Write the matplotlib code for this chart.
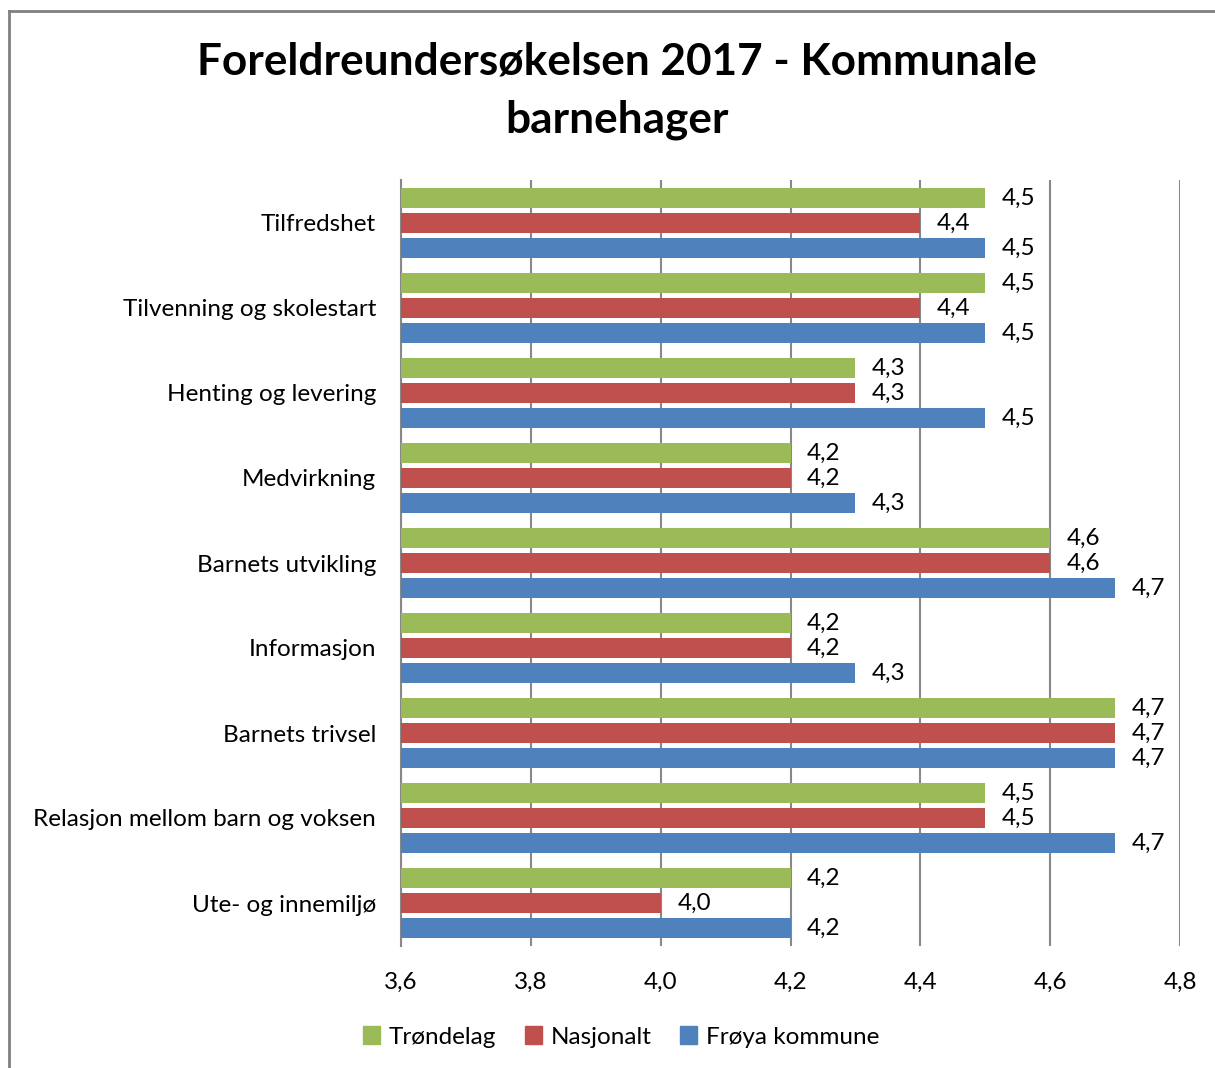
import matplotlib
matplotlib.use("Agg")
import matplotlib.pyplot as plt
from matplotlib.lines import Line2D
from matplotlib.patches import Patch
import numpy as np

categories = ["Tilfredshet", "Tilvenning og skolestart", "Henting og levering",
              "Medvirkning", "Barnets utvikling", "Informasjon", "Barnets trivsel",
              "Relasjon mellom barn og voksen", "Ute- og innemiljø"]
trondelag = [4.5, 4.5, 4.3, 4.2, 4.6, 4.2, 4.7, 4.5, 4.2]
nasjonalt = [4.4, 4.4, 4.3, 4.2, 4.6, 4.2, 4.7, 4.5, 4.0]
froya = [4.5, 4.5, 4.5, 4.3, 4.7, 4.3, 4.7, 4.7, 4.2]
series_names = ["Trøndelag", "Nasjonalt", "Frøya kommune"]
colors = ["#9BBB59", "#C0504D", "#4F81BD"]
xticks = [3.6, 3.8, 4.0, 4.2, 4.4, 4.6, 4.8]

plt.rcParams['font.family'] = ['Lato', 'DejaVu Sans']

W, H = 1215, 1068
fig = plt.figure(figsize=(W/100, H/100), dpi=100)
top_px, bot_px = 180.5, 945.5
ax = fig.add_axes([401/W, 1-bot_px/H, (1180-401)/W, (bot_px-top_px)/H])

FS = 17.5
base = 3.6
y = np.arange(len(categories))
offsets = [-0.294, 0.0, 0.294]
h = 0.245
for vals, off, c in zip([trondelag, nasjonalt, froya], offsets, colors):
    ax.barh(y + off, np.array(vals) - base, left=base, height=h, color=c, zorder=3)
    for yi, v in zip(y, vals):
        ax.annotate(f"{v:.1f}".replace(".", ","), xy=(v, yi + off), xytext=(12, 0),
                    textcoords="offset points", va="center", ha="left",
                    fontsize=FS, color="black", zorder=4)

ax.set_ylim(len(categories) - 0.5, -0.5)
ax.set_xlim(3.6, 4.8)
ax.set_xticks(xticks)
ax.set_xticklabels([f"{t:.1f}".replace(".", ",") for t in xticks], fontsize=FS)
ax.set_yticks(y)
ax.set_yticklabels(categories, fontsize=FS)
ax.tick_params(axis="y", length=0, pad=18)
ax.tick_params(axis="x", length=0, pad=19)
ax.grid(axis="x", color="#888888", linewidth=1.5, zorder=0)
for s in ["top", "right", "bottom"]:
    ax.spines[s].set_visible(False)
ax.spines["left"].set_color("#888888")
ax.spines["left"].set_linewidth(1.5)

fig.text(617/W, 1-62/H, "Foreldreundersøkelsen 2017 - Kommunale", ha="center", va="center",
         fontsize=31.8, fontweight="bold")
fig.text(617/W, 1-120/H, "barnehager", ha="center", va="center", fontsize=31.8, fontweight="bold")

handles = [Patch(facecolor=c, edgecolor=c) for c in colors]
fig.legend(handles, series_names, loc="center", bbox_to_anchor=(621/W, 1-1037/H), ncol=3,
           frameon=False, fontsize=FS, handlelength=0.7, handleheight=0.7,
           handletextpad=0.35, columnspacing=1.2)

fig.add_artist(Line2D([9/W, 9/W], [0, 1-10.5/H], color="#808080", linewidth=2))
fig.add_artist(Line2D([9/W, 1], [1-10.5/H, 1-10.5/H], color="#808080", linewidth=2))

fig.savefig("out.png", dpi=100)
